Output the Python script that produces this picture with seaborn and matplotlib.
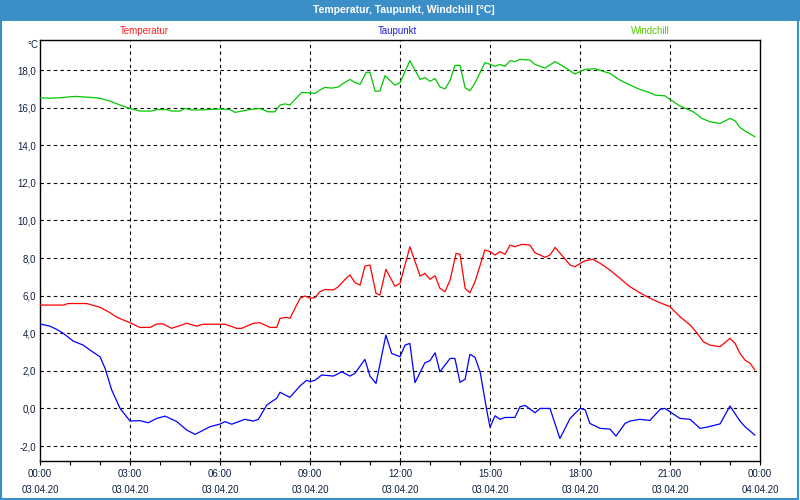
import matplotlib
matplotlib.use("Agg")
import matplotlib.pyplot as plt
import matplotlib.patches as mpatches
import numpy as np
import pandas as pd
import seaborn as sns

# ---------------- data ----------------
temp_hours = [0.0, 0.5, 0.8, 0.93, 1.56, 2.0, 2.33, 2.56, 3.0, 3.33, 3.67, 3.89, 4.1, 4.39, 4.89,
              5.22, 5.44, 6.17, 6.56, 6.72, 7.11, 7.33, 7.67, 7.89, 8.0, 8.22, 8.33, 8.67, 8.83,
              9.0, 9.17, 9.33, 9.5, 9.78, 9.94, 10.17, 10.33, 10.5, 10.67, 10.83, 11.0, 11.2,
              11.33, 11.53, 11.83, 12.0, 12.33, 12.67, 12.83, 13.0, 13.17, 13.33, 13.5, 13.67,
              13.87, 14.0, 14.17, 14.33, 14.5, 14.83, 15.0, 15.17, 15.33, 15.5, 15.67, 15.83,
              16.06, 16.33, 16.5, 16.67, 16.83, 17.0, 17.17, 17.44, 17.67, 17.83, 18.17, 18.44,
              18.67, 19.0, 19.33, 19.67, 20.0, 20.33, 20.67, 21.0, 21.33, 21.67, 21.89, 22.11,
              22.33, 22.67, 23.0, 23.17, 23.33, 23.5, 23.67, 23.83]
temp_values = [5.5, 5.5, 5.5, 5.58, 5.58, 5.38, 5.1, 4.85, 4.56, 4.31, 4.31, 4.49, 4.5, 4.26, 4.53,
               4.38, 4.48, 4.48, 4.26, 4.26, 4.53, 4.56, 4.31, 4.31, 4.79, 4.85, 4.79, 5.86, 5.98,
               5.86, 5.9, 6.21, 6.33, 6.3, 6.47, 6.87, 7.1, 6.69, 6.56, 7.57, 7.63, 6.12,
               6.03, 7.4, 6.5, 6.65, 8.6, 7.04, 7.18, 6.87, 7.06, 6.39, 6.21, 6.83,
               8.25, 8.2, 6.39, 6.15, 6.74, 8.43, 8.34, 8.16, 8.34, 8.2, 8.69, 8.6,
               8.73, 8.69, 8.28, 8.16, 8.04, 8.16, 8.57, 8.06, 7.63, 7.54, 7.86, 7.93,
               7.72, 7.36, 6.92, 6.47, 6.15, 5.86, 5.62, 5.41, 4.88, 4.44, 4.03, 3.55,
               3.37, 3.28, 3.73, 3.46, 2.93, 2.57, 2.4, 2.04]

dew_hours = [0.0, 0.33, 0.56, 0.78, 1.11, 1.44, 1.67, 2.0, 2.17, 2.39, 2.67, 3.0, 3.33, 3.61, 3.89,
             4.17, 4.56, 4.89, 5.17, 5.67, 6.0, 6.17, 6.39, 6.83, 7.11, 7.28, 7.56, 7.72, 7.89,
             8.0, 8.33, 8.67, 8.89, 9.0, 9.17, 9.39, 9.78, 10.06, 10.33, 10.5, 10.83, 11.0,
             11.2, 11.53, 11.72, 12.0, 12.17, 12.33, 12.5, 12.83, 13.0, 13.17, 13.33, 13.67,
             13.83, 14.0, 14.17, 14.33, 14.5, 14.67, 14.89, 15.0, 15.17, 15.33, 15.5, 15.83,
             16.0, 16.17, 16.5, 16.67, 17.0, 17.33, 17.67, 18.0, 18.17, 18.33, 18.67, 19.0,
             19.2, 19.5, 19.67, 20.0, 20.33, 20.67, 20.83, 21.0, 21.33, 21.67, 22.0, 22.22,
             22.67, 23.0, 23.33, 23.5, 23.83]
dew_values = [4.49, 4.38, 4.2, 3.99, 3.58, 3.37, 3.1, 2.75, 2.13, 0.98, 0.0, -0.67, -0.65, -0.76, -0.53,
              -0.41, -0.7, -1.15, -1.38, -0.97, -0.83, -0.7, -0.84, -0.58, -0.67, -0.58, 0.18, 0.36, 0.54,
              0.86, 0.59, 1.2, 1.5, 1.42, 1.5, 1.78, 1.72, 1.95, 1.72, 1.87, 2.61, 1.72,
              1.33, 3.9, 2.93, 2.75, 3.37, 3.46, 1.37, 2.43, 2.54, 2.96, 1.95, 2.66,
              2.66, 1.39, 1.55, 2.88, 2.72, 1.95, -0.08, -1.0, -0.39, -0.58, -0.48, -0.48,
              0.09, 0.16, -0.23, 0.0, 0.0, -1.6, -0.53, 0.0, -0.07, -0.8, -1.06, -1.1,
              -1.47, -0.8, -0.67, -0.58, -0.64, -0.05, 0.0, -0.18, -0.53, -0.58, -1.06, -1.0,
              -0.82, 0.13, -0.67, -0.97, -1.42]

wind_hours = [0.0, 0.33, 0.67, 1.17, 1.67, 2.0, 2.33, 2.67, 3.0, 3.33, 3.72, 3.89, 4.22, 4.39, 4.67,
              4.83, 5.06, 5.33, 6.0, 6.33, 6.5, 7.0, 7.33, 7.6, 7.83, 8.0, 8.17, 8.33, 8.5, 8.72,
              8.89, 9.17, 9.33, 9.5, 9.72, 9.94, 10.11, 10.33, 10.5, 10.67, 10.87, 11.0, 11.17,
              11.33, 11.5, 11.83, 12.0, 12.33, 12.67, 12.83, 13.0, 13.17, 13.33, 13.5, 13.67,
              13.83, 14.0, 14.17, 14.33, 14.5, 14.83, 15.0, 15.17, 15.33, 15.5, 15.67, 15.83,
              16.0, 16.33, 16.5, 16.67, 16.83, 17.17, 17.5, 17.83, 18.17, 18.5, 19.0, 19.33,
              19.67, 20.0, 20.33, 20.5, 20.83, 21.0, 21.33, 21.78, 22.06, 22.33, 22.67, 23.0,
              23.17, 23.33, 23.5, 23.83]
wind_values = [16.53, 16.5, 16.53, 16.6, 16.55, 16.5, 16.35, 16.14, 15.96, 15.82, 15.82, 15.9, 15.9, 15.82, 15.82,
               15.96, 15.88, 15.88, 15.93, 15.9, 15.75, 15.9, 15.96, 15.78, 15.78, 16.14, 16.2, 16.14, 16.44, 16.8,
               16.8, 16.76, 16.94, 17.08, 17.04, 17.1, 17.29, 17.5, 17.34, 17.24, 17.88, 17.88, 16.88,
               16.88, 17.7, 17.2, 17.33, 18.5, 17.5, 17.6, 17.4, 17.55, 17.1, 17.0, 17.45,
               18.25, 18.25, 17.06, 16.9, 17.3, 18.4, 18.3, 18.2, 18.3, 18.2, 18.5, 18.45,
               18.57, 18.53, 18.3, 18.2, 18.1, 18.45, 18.14, 17.79, 18.04, 18.07, 17.82, 17.47,
               17.2, 16.97, 16.8, 16.67, 16.63, 16.44, 16.09, 15.78, 15.43, 15.25, 15.16, 15.43,
               15.3, 14.95, 14.76, 14.45]

series_names = ["Temperatur", "Taupunkt", "Windchill"]
series_colors = ["#ff0000", "#0000ff", "#00c800"]
label_colors = ["#ff2020", "#2020e0", "#55c800"]
y_ticks = [-2.0, 0.0, 2.0, 4.0, 6.0, 8.0, 10.0, 12.0, 14.0, 16.0, 18.0]
x_major_hours = [0, 3, 6, 9, 12, 15, 18, 21, 24]
x_time_labels = ["00:00", "03:00", "06:00", "09:00", "12:00", "15:00", "18:00", "21:00", "00:00"]
x_date_labels = ["03.04.20"] * 8 + ["04.04.20"]
title_text = "Temperatur, Taupunkt, Windchill [°C]"
unit_text = "°C"

# ---------------- figure ----------------
sns.set_theme(style="white")
plt.rcParams["font.family"] = ["Liberation Sans", "DejaVu Sans"]

W, H = 800, 500
fig = plt.figure(figsize=(W / 100, H / 100), dpi=100)
fig.patch.set_facecolor("white")

ax = fig.add_axes([40 / W, 1 - 460.5 / H, 720 / W, 420.5 / H])
ax.set_facecolor("white")

df = pd.concat([
    pd.DataFrame({"hour": temp_hours, "value": temp_values, "series": series_names[0]}),
    pd.DataFrame({"hour": dew_hours, "value": dew_values, "series": series_names[1]}),
    pd.DataFrame({"hour": wind_hours, "value": wind_values, "series": series_names[2]}),
], ignore_index=True)

sns.lineplot(data=df, x="hour", y="value", hue="series", hue_order=series_names,
             palette=series_colors, estimator=None, sort=False, linewidth=0.9,
             legend=False, ax=ax, zorder=3)

ax.set_xlim(0, 24)
ax.set_ylim(-2.77, 19.6)
ax.set_xlabel("")
ax.set_ylabel("")

# grid
for h in x_major_hours[1:-1]:
    ax.axvline(h, color="black", linewidth=0.8, linestyle=(0, (3, 3)), zorder=1)
for v in y_ticks:
    ax.axhline(v, color="black", linewidth=0.8, linestyle=(0, (3, 3)), zorder=1)

for sp in ax.spines.values():
    sp.set_visible(True)
    sp.set_color("black")
    sp.set_linewidth(1.0)

tick_color = "#102040"
ax.set_yticks(y_ticks)
ax.set_yticklabels([f"{v:.1f}".replace(".", ",") for v in y_ticks])
ax.tick_params(axis="y", length=0, pad=3, labelsize=7, labelcolor=tick_color)

ax.set_xticks(x_major_hours)
ax.set_xticklabels([f"{t}\n{d}" for t, d in zip(x_time_labels, x_date_labels)])
ax.set_xticks(list(range(0, 25)), minor=True)
ax.tick_params(axis="x", which="both", direction="out", length=3, width=0.8,
               color="black", pad=3, labelsize=7, labelcolor=tick_color, bottom=True)
for lbl in ax.get_xticklabels():
    lbl.set_linespacing(1.75)

# unit label
fig.text(38 / W, 1 - 45 / H, unit_text, ha="right", va="center", fontsize=7, color=tick_color)

# series labels on top
label_x = [144, 397, 650]
for name, col, x in zip(series_names, label_colors, label_x):
    fig.text(x / W, 1 - 30.5 / H, name, ha="center", va="center", fontsize=7, color=col)

# title bar
fig.patches.append(mpatches.Rectangle((0, 1 - 20.5 / H), 1, 20.5 / H, transform=fig.transFigure,
                                      facecolor="#3c8fc6", edgecolor="none", zorder=0))
fig.text(0.505, 1 - 10 / H, title_text, ha="center", va="center", fontsize=7.5,
         fontweight="bold", color="white")

# outer frame
fig.patches.append(mpatches.Rectangle((0.001, 0.002), 0.997, 0.996, transform=fig.transFigure,
                                      facecolor="none", edgecolor="#3c8fc6", linewidth=1.5, zorder=0))

fig.savefig("out.png", dpi=100, facecolor="white")
